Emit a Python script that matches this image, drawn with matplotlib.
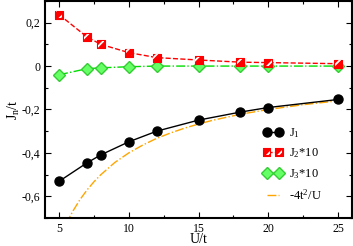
import matplotlib
matplotlib.use('Agg')
import matplotlib.pyplot as plt
from matplotlib.ticker import MultipleLocator, FuncFormatter
from matplotlib.legend_handler import HandlerTuple

plt.rcParams['font.family'] = ['Liberation Serif', 'DejaVu Serif']
plt.rcParams['mathtext.fontset'] = 'custom'
plt.rcParams['mathtext.rm'] = 'Liberation Serif'
plt.rcParams['mathtext.it'] = 'Liberation Serif'
plt.rcParams['hatch.linewidth'] = 1.3

# Data
U = [5, 7, 8, 10, 12, 15, 18, 20, 25]
J1 = [-0.531, -0.446, -0.409, -0.349, -0.300, -0.249, -0.212, -0.191, -0.154]
J2x10 = [0.237, 0.134, 0.100, 0.062, 0.039, 0.028, 0.018, 0.016, 0.011]
J3x10 = [-0.040, -0.012, -0.008, -0.003, 0.0, 0.0, 0.0, 0.0, 0.0]

# -4t^2/U curve, sampled
U_approx = [5.5, 5.75, 6, 6.5, 7, 7.5, 8, 9, 10, 11, 12, 13, 14, 15, 16, 18, 20, 22.5, 25]
J_approx = [-0.727, -0.696, -0.667, -0.615, -0.571, -0.533, -0.500, -0.444, -0.400,
            -0.364, -0.333, -0.308, -0.286, -0.267, -0.250, -0.222, -0.200, -0.178, -0.160]

fig, ax = plt.subplots(figsize=(3.53, 2.46), dpi=100)
fig.subplots_adjust(left=0.128, right=0.997, top=0.996, bottom=0.114)

l1, = ax.plot(U, J1, '-', color='black', lw=1.0, marker='o', ms=6.5, zorder=4)
l2, = ax.plot(U, J2x10, '--', color='red', lw=1.0, zorder=3)
# red square with white diagonal stripes
s2a = ax.scatter(U, J2x10, marker='s', s=30, facecolor='red', edgecolor='red',
                 linewidths=0.8, zorder=5)
s2b = ax.scatter(U, J2x10, marker='s', s=22, facecolor='none', edgecolor='white',
                 hatch='///', linewidths=0, zorder=6)
l3, = ax.plot(U, J3x10, '-.', color='#00dd00', lw=1.0, marker='D', ms=6,
              mfc='#66ff66', mec='#33cc33', zorder=4)
l4, = ax.plot(U_approx, J_approx, '-.', color='orange', lw=1.0, zorder=2)

ax.set_xlim(4, 26)
ax.set_ylim(-0.7, 0.3)
ax.xaxis.set_major_locator(MultipleLocator(5))
ax.xaxis.set_minor_locator(MultipleLocator(2.5))
ax.yaxis.set_major_locator(MultipleLocator(0.2))
ax.yaxis.set_minor_locator(MultipleLocator(0.1))


def comma(v, pos):
    if abs(v) < 1e-9:
        return '0'
    return ('%.1f' % v).replace('.', ',')


ax.yaxis.set_major_formatter(FuncFormatter(comma))
ax.tick_params(which='both', direction='in', top=True, right=True, labelsize=8.5, width=0.8)
ax.tick_params(which='major', length=4)
ax.tick_params(which='minor', length=2)
for sp in ax.spines.values():
    sp.set_linewidth(1.5)

ax.set_xlabel('U/t', fontsize=10, labelpad=-1)
ax.set_ylabel('J$_n$/t', fontsize=10, labelpad=0)

ax.legend([l1, (l2, s2a, s2b), l3, l4],
          ['J$_1$', 'J$_2$*10', 'J$_3$*10', '-4t$^2$/U'],
          handler_map={tuple: HandlerTuple(ndivide=1)},
          loc='lower right', frameon=False, fontsize=9, numpoints=2, scatterpoints=2,
          scatteryoffsets=[0.5],
          handlelength=1.6, handletextpad=0.5, labelspacing=0.55,
          borderaxespad=0.4, bbox_to_anchor=(0.935, 0.025))

fig.savefig('out.png', dpi=100)
